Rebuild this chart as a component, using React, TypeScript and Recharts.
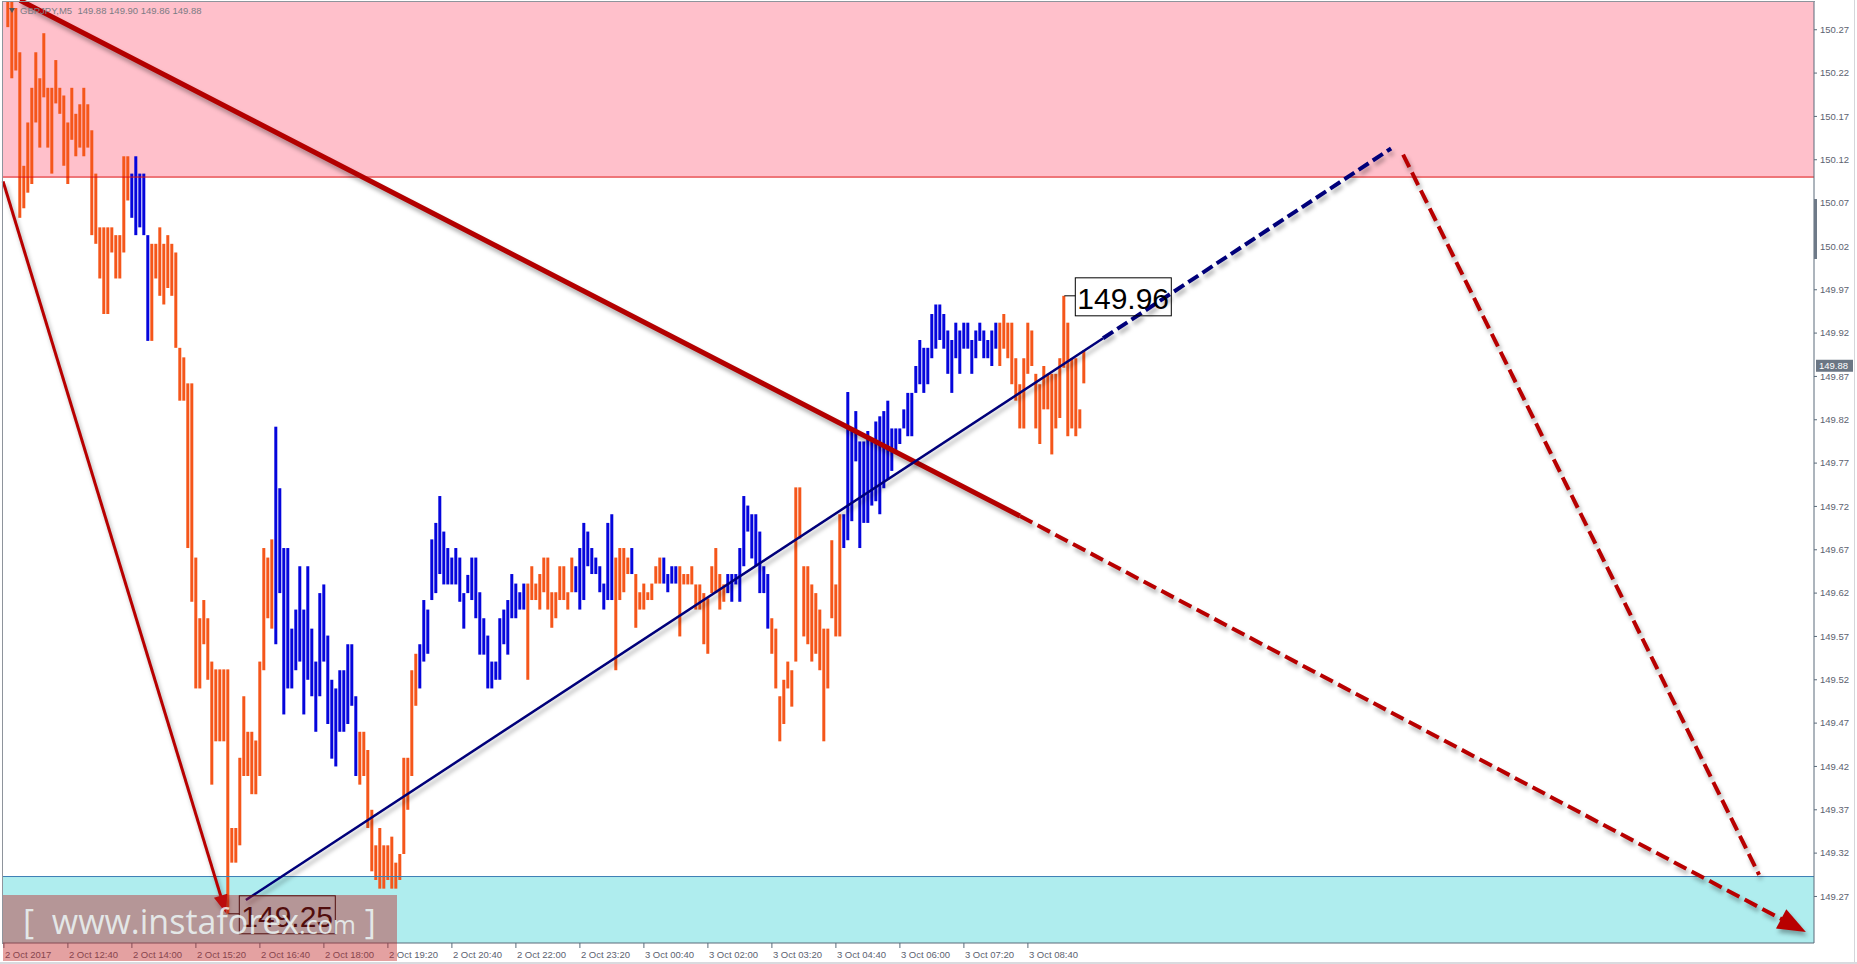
import React from 'react';
import {
  ComposedChart,
  Bar,
  Cell,
  XAxis,
  YAxis,
  ReferenceArea,
  ReferenceLine,
  ReferenceDot,
} from 'recharts';

// ---- data (5-minute bars, index 0 = first visible bar) ----
const highs = [
  150.302, 150.302, 150.295, 150.244, 150.113, 150.163, 150.203, 150.244, 150.214, 150.266,
  150.203, 150.203, 150.235, 150.203, 150.194, 150.163, 150.203, 150.173, 150.184, 150.203,
  150.184, 150.154, 150.104, 150.042, 150.042, 150.042, 150.042, 150.033, 150.033, 150.124,
  150.124, 150.104, 150.124, 150.104, 150.104, 150.033, 150.023, 150.023, 150.042, 150.023,
  150.033, 150.023, 150.013, 149.903, 149.892, 149.862, 149.862, 149.661, 149.591, 149.612,
  149.591, 149.541, 149.532, 149.532, 149.532, 149.532, 149.349, 149.349, 149.43, 149.501,
  149.46, 149.46, 149.45, 149.541, 149.672, 149.661, 149.682, 149.812, 149.741, 149.672,
  149.672, 149.579, 149.601, 149.651, 149.601, 149.651, 149.579, 149.541, 149.62, 149.63,
  149.571, 149.52, 149.51, 149.531, 149.531, 149.561, 149.561, 149.501, 149.46, 149.46,
  149.439, 149.37, 149.329, 149.349, 149.329, 149.329, 149.339, 149.309, 149.319, 149.43,
  149.43, 149.531, 149.55, 149.561, 149.612, 149.601, 149.682, 149.701, 149.732, 149.691,
  149.672, 149.661, 149.672, 149.661, 149.62, 149.641, 149.661, 149.661, 149.621, 149.591,
  149.571, 149.541, 149.541, 149.591, 149.601, 149.612, 149.642, 149.631, 149.621, 149.631,
  149.631, 149.651, 149.631, 149.642, 149.661, 149.661, 149.621, 149.621, 149.651, 149.651,
  149.621, 149.661, 149.651, 149.672, 149.701, 149.691, 149.672, 149.661, 149.651, 149.631,
  149.701, 149.711, 149.661, 149.672, 149.672, 149.661, 149.672, 149.642, 149.621, 149.631,
  149.621, 149.631, 149.651, 149.661, 149.661, 149.642, 149.651, 149.651, 149.651, 149.642,
  149.642, 149.651, 149.63, 149.63, 149.62, 149.614, 149.651, 149.672, 149.642, 149.63,
  149.642, 149.642, 149.642, 149.672, 149.732, 149.721, 149.711, 149.711, 149.691, 149.651,
  149.642, 149.591, 149.579, 149.501, 149.52, 149.541, 149.531, 149.742, 149.742, 149.651,
  149.651, 149.63, 149.62, 149.601, 149.579, 149.579, 149.681, 149.63, 149.711, 149.711,
  149.852, 149.807, 149.83, 149.795, 149.795, 149.807, 149.795, 149.818, 149.824, 149.83,
  149.842, 149.81, 149.81, 149.81, 149.832, 149.851, 149.851, 149.882, 149.912, 149.903,
  149.903, 149.942, 149.953, 149.953, 149.942, 149.923, 149.912, 149.932, 149.923, 149.932,
  149.932, 149.912, 149.923, 149.932, 149.923, 149.912, 149.923, 149.932, 149.932, 149.942,
  149.932, 149.932, 149.891, 149.861, 149.891, 149.932, 149.923, 149.873, 149.861, 149.882,
  149.873, 149.873, 149.873, 149.891, 149.963, 149.932, 149.891, 149.891, 149.832, 149.9,
];

const lows = [
  150.273, 150.214, 150.223, 150.053, 150.064, 150.082, 150.092, 150.163, 150.134, 150.192,
  150.134, 150.104, 150.185, 150.173, 150.113, 150.092, 150.143, 150.124, 150.134, 150.124,
  150.134, 150.033, 150.023, 149.983, 149.942, 149.942, 150.013, 149.983, 149.983, 150.013,
  150.073, 150.053, 150.033, 150.042, 150.033, 149.911, 149.911, 149.983, 149.963, 149.953,
  149.972, 149.963, 149.903, 149.842, 149.842, 149.672, 149.61, 149.51, 149.51, 149.561,
  149.52, 149.399, 149.449, 149.449, 149.449, 149.25, 149.309, 149.309, 149.329, 149.409,
  149.409, 149.388, 149.388, 149.409, 149.531, 149.591, 149.579, 149.561, 149.62, 149.48,
  149.51, 149.51, 149.531, 149.541, 149.48, 149.52, 149.501, 149.46, 149.501, 149.541,
  149.469, 149.429, 149.42, 149.46, 149.46, 149.469, 149.49, 149.409, 149.399, 149.409,
  149.349, 149.299, 149.289, 149.279, 149.279, 149.289, 149.279, 149.279, 149.289, 149.319,
  149.37, 149.409, 149.49, 149.51, 149.541, 149.55, 149.612, 149.62, 149.642, 149.63,
  149.63, 149.63, 149.63, 149.61, 149.579, 149.62, 149.612, 149.591, 149.549, 149.549,
  149.51, 149.51, 149.52, 149.52, 149.561, 149.549, 149.591, 149.591, 149.601, 149.601,
  149.52, 149.612, 149.612, 149.601, 149.621, 149.601, 149.58, 149.591, 149.612, 149.612,
  149.601, 149.621, 149.621, 149.601, 149.612, 149.651, 149.642, 149.642, 149.621, 149.601,
  149.612, 149.612, 149.531, 149.612, 149.621, 149.642, 149.642, 149.58, 149.601, 149.601,
  149.612, 149.612, 149.631, 149.631, 149.631, 149.621, 149.631, 149.631, 149.57, 149.63,
  149.63, 149.63, 149.601, 149.601, 149.561, 149.55, 149.62, 149.62, 149.601, 149.61,
  149.62, 149.61, 149.63, 149.61, 149.651, 149.691, 149.66, 149.651, 149.62, 149.62,
  149.579, 149.55, 149.51, 149.449, 149.469, 149.51, 149.489, 149.541, 149.683, 149.57,
  149.561, 149.541, 149.55, 149.531, 149.449, 149.51, 149.591, 149.57, 149.57, 149.672,
  149.681, 149.703, 149.772, 149.672, 149.701, 149.701, 149.721, 149.726, 149.711, 149.741,
  149.751, 149.761, 149.784, 149.792, 149.81, 149.801, 149.801, 149.851, 149.861, 149.851,
  149.861, 149.891, 149.902, 149.912, 149.902, 149.873, 149.851, 149.891, 149.873, 149.902,
  149.902, 149.873, 149.891, 149.911, 149.891, 149.891, 149.882, 149.902, 149.882, 149.902,
  149.891, 149.861, 149.842, 149.81, 149.81, 149.873, 149.882, 149.81, 149.792, 149.832,
  149.832, 149.78, 149.81, 149.822, 149.88, 149.801, 149.81, 149.801, 149.81, 149.862,
];

// runs of bars drawn in blue (inclusive index ranges); all other bars are orange
const blueRuns: [number, number][] = [
  [31, 35], [67, 87], [103, 129], [142, 151], [156, 156], [164, 167], [180, 190], [209, 247],
];

const timeLabels = [
  '2 Oct 2017', '2 Oct 12:40', '2 Oct 14:00', '2 Oct 15:20', '2 Oct 16:40', '2 Oct 18:00',
  '2 Oct 19:20', '2 Oct 20:40', '2 Oct 22:00', '2 Oct 23:20', '3 Oct 00:40', '3 Oct 02:00',
  '3 Oct 03:20', '3 Oct 04:40', '3 Oct 06:00', '3 Oct 07:20', '3 Oct 08:40',
];
const timeTickBars = [
  -1.1, 14.9, 30.9, 46.9, 62.9, 78.9, 94.9, 110.9, 126.9, 142.9, 158.9, 174.9, 190.9, 206.9,
  222.9, 238.9, 254.9,
];

const priceTicks = [
  149.27, 149.32, 149.37, 149.42, 149.47, 149.52, 149.57, 149.62, 149.67, 149.72, 149.77,
  149.82, 149.87, 149.92, 149.97, 150.02, 150.07, 150.12, 150.17, 150.22, 150.27,
];

const quote = { symbol: 'GBPJPY,M5', open: 149.88, high: 149.9, low: 149.86, close: 149.88 };

const resistanceFrom = 150.1;
const supportTo = 149.293;

const xDomain: [number, number] = [-1.325, 451.425];
const yDomain: [number, number] = [149.2163, 150.302];

type Trend = {
  from: [number, number];
  to: [number, number];
  color: string;
  width: number;
  dash?: string;
  arrow?: 'big' | 'small';
};

const trendLines: Trend[] = [
  { from: [2.9, 150.304], to: [252.9, 149.709], color: '#b30000', width: 5 },
  { from: [252.9, 149.709], to: [449.4, 149.229], color: '#b80000', width: 4, dash: '14 6', arrow: 'big' },
  { from: [-1.3, 150.095], to: [54.4, 149.251], color: '#b80000', width: 3, arrow: 'small' },
  { from: [59.4, 149.266], to: [273.7, 149.914], color: '#00007a', width: 2.5 },
  { from: [273.7, 149.914], to: [345.7, 150.133], color: '#00007a', width: 4, dash: '12 5' },
  { from: [348.7, 150.126], to: [437.7, 149.295], color: '#b80000', width: 4, dash: '14 6' },
];

const extremeLabels = [
  { bar: 55, price: 149.25, text: '149.25' },
  { bar: 264, price: 149.963, text: '149.96' },
];

const ORANGE = '#f5561a';
const BLUE = '#0505dc';

const isBlue = (i: number) => blueRuns.some(([a, b]) => i >= a && i <= b);

const rows = highs.map((h, i) => ({ t: i, range: [lows[i], h], color: isBlue(i) ? BLUE : ORANGE }));

const AXIS_FONT = "'Liberation Sans', Arial, sans-serif";

const TimeTick = (props: any) => {
  const { x, y, payload } = props;
  const idx = timeTickBars.indexOf(payload.value);
  return (
    <text x={x + 1} y={y + 8} fill="#5c6270" fontSize={9.5} fontFamily={AXIS_FONT} textAnchor="start">
      {idx >= 0 ? timeLabels[idx] : ''}
    </text>
  );
};

const makeTrendShape = (tr: Trend) => (p: any) => {
  const { x1, y1, x2, y2 } = p;
  if ([x1, y1, x2, y2].some((v) => typeof v !== 'number' || Number.isNaN(v))) return <g />;
  const dx = x2 - x1;
  const dy = y2 - y1;
  const len = Math.sqrt(dx * dx + dy * dy) || 1;
  const ux = dx / len;
  const uy = dy / len;
  let ex = x2;
  let ey = y2;
  let head: React.ReactNode = null;
  if (tr.arrow) {
    const L = tr.arrow === 'big' ? 28 : 18;
    const W = tr.arrow === 'big' ? 11 : 7;
    ex = x2 - ux * (L - 2);
    ey = y2 - uy * (L - 2);
    const bx = x2 - ux * L;
    const by = y2 - uy * L;
    const pts = `${x2},${y2} ${bx - uy * W},${by + ux * W} ${bx + uy * W},${by - ux * W}`;
    head = <polygon points={pts} fill={tr.color} />;
  }
  return (
    <g style={{ filter: 'drop-shadow(2px 4px 2px rgba(0,0,0,0.32))' }}>
      <line
        x1={x1}
        y1={y1}
        x2={ex}
        y2={ey}
        stroke={tr.color}
        strokeWidth={tr.width}
        strokeDasharray={tr.dash}
        strokeLinecap="butt"
      />
      {head}
    </g>
  );
};

const makeBoxShape = (text: string) => (p: any) => {
  const { cx, cy } = p;
  if (typeof cx !== 'number' || typeof cy !== 'number') return <g />;
  return (
    <g>
      <line x1={cx} y1={cy} x2={cx + 11} y2={cy} stroke="#000" strokeWidth={1} />
      <rect x={cx + 11} y={cy - 18} width={96} height={38} fill="none" stroke="#000" strokeWidth={1} />
      <text x={cx + 13} y={cy + 13} fontSize={30} fontFamily={AXIS_FONT} fill="#000">
        {text}
      </text>
    </g>
  );
};

const headerShape = (p: any) => {
  const { cx, cy } = p;
  if (typeof cx !== 'number' || typeof cy !== 'number') return <g />;
  const txt = `${quote.symbol}  ${quote.open.toFixed(2)} ${quote.high.toFixed(2)} ${quote.low.toFixed(2)} ${quote.close.toFixed(2)}`;
  return (
    <g>
      <polygon points={`${cx + 6},${cy + 6} ${cx + 12},${cy + 6} ${cx + 9},${cy + 11}`} fill="#555" />
      <text x={cx + 17} y={cy + 12} fontSize={9.5} fontFamily={AXIS_FONT} fill="#7c7c84" xmlSpace="preserve">
        {txt}
      </text>
    </g>
  );
};

const priceTagShape = (p: any) => {
  const { cx, cy } = p;
  if (typeof cx !== 'number' || typeof cy !== 'number') return <g />;
  return (
    <g>
      <rect x={cx + 2} y={cy - 8} width={37} height={12} fill="#6b7684" />
      <text x={cx + 5} y={cy + 1.5} fontSize={9.5} fontFamily={AXIS_FONT} fill="#fff">
        {quote.close.toFixed(2)}
      </text>
    </g>
  );
};

export default function App() {
  return (
    <div style={{ position: 'absolute', left: 0, top: 0, width: 1857, height: 964, background: '#fff' }}>
      <ComposedChart
        width={1857}
        height={964}
        data={rows}
        margin={{ top: 2, right: 0, bottom: 0, left: 3 }}
      >
        <XAxis
          dataKey="t"
          type="number"
          domain={xDomain}
          allowDataOverflow
          ticks={timeTickBars}
          interval={0}
          tick={<TimeTick />}
          tickSize={5}
          tickMargin={2}
          height={21}
          axisLine={{ stroke: '#5a6b7b' }}
          tickLine={{ stroke: '#5a6b7b' }}
        />
        <YAxis
          orientation="right"
          type="number"
          domain={yDomain}
          allowDataOverflow
          ticks={priceTicks}
          interval={0}
          width={43}
          tickSize={3}
          tickMargin={3}
          tickFormatter={(v: number) => v.toFixed(2)}
          tick={{ fill: '#5c6270', fontSize: 9.5, fontFamily: AXIS_FONT }}
          axisLine={{ stroke: '#5a6b7b' }}
          tickLine={{ stroke: '#5a6b7b' }}
        />
        <ReferenceArea y1={resistanceFrom} y2={yDomain[1]} fill="#ffc0cb" fillOpacity={1} stroke="none" ifOverflow="hidden" />
        <ReferenceArea y1={yDomain[0]} y2={supportTo} fill="#afedee" fillOpacity={1} stroke="none" ifOverflow="hidden" />
        <ReferenceLine y={resistanceFrom} stroke="#dd1111" strokeWidth={1} />
        <ReferenceLine y={supportTo} stroke="#3d7fb5" strokeWidth={1} />
        <ReferenceDot x={xDomain[0]} y={yDomain[1]} r={0} ifOverflow="visible" shape={headerShape} />
        <Bar dataKey="range" barSize={3} isAnimationActive={false}>
          {rows.map((r, i) => (
            <Cell key={i} fill={r.color} />
          ))}
        </Bar>
        {trendLines.map((tr, i) => (
          <ReferenceLine
            key={`tr${i}`}
            segment={[
              { x: tr.from[0], y: tr.from[1] },
              { x: tr.to[0], y: tr.to[1] },
            ]}
            ifOverflow="visible"
            stroke={tr.color}
            strokeWidth={tr.width}
            shape={makeTrendShape(tr)}
          />
        ))}
        {extremeLabels.map((l) => (
          <ReferenceDot key={l.text} x={l.bar} y={l.price} r={0} ifOverflow="visible" shape={makeBoxShape(l.text)} />
        ))}
        <ReferenceDot x={xDomain[1]} y={quote.close} r={0} ifOverflow="visible" shape={priceTagShape} />
      </ComposedChart>

      {/* window frame */}
      <div style={{ position: 'absolute', left: 2, top: 1, width: 1812, height: 942, borderLeft: '1px solid #8e949c', borderTop: '1px solid #8e949c', pointerEvents: 'none' }} />
      <div style={{ position: 'absolute', left: 1854, top: 0, width: 1, height: 964, background: '#d4d6da' }} />
      <div style={{ position: 'absolute', left: 0, top: 962, width: 1857, height: 2, background: '#d9dbdf' }} />
      {/* scroll marker on price scale */}
      <div style={{ position: 'absolute', left: 1814, top: 199, width: 3, height: 60, background: '#6e7a88' }} />
      {/* watermark */}
      <div
        style={{
          position: 'absolute',
          left: 3,
          top: 895,
          width: 394,
          height: 66,
          background: 'rgba(190, 30, 30, 0.42)',
          pointerEvents: 'none',
          overflow: 'hidden',
        }}
      >
        <div
          style={{
            position: 'absolute',
            left: 20,
            top: 4,
            whiteSpace: 'nowrap',
            color: 'rgba(236, 246, 246, 0.85)',
            fontFamily: "'Open Sans', sans-serif",
            fontSize: 34,
            lineHeight: '44px',
          }}
        >
          [&nbsp;&nbsp;www.instaforex<span style={{ fontSize: 25 }}>.com</span>&nbsp;]
        </div>
      </div>
    </div>
  );
}
